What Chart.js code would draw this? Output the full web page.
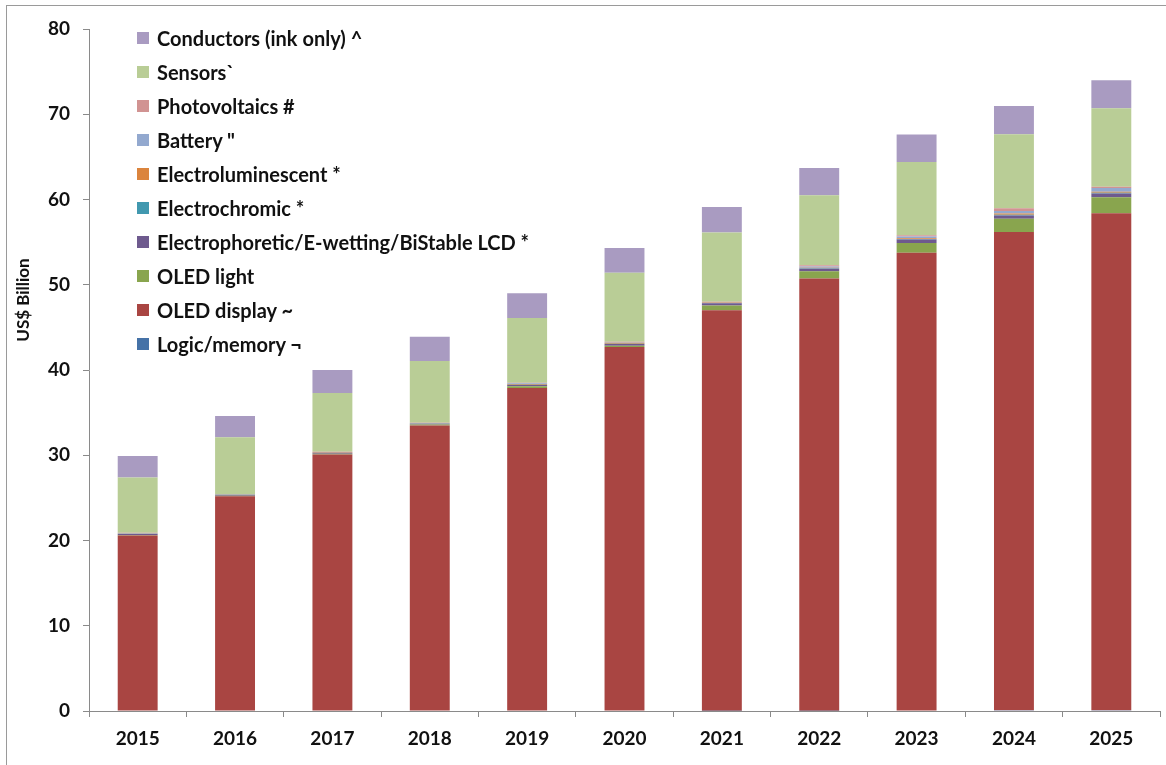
<!DOCTYPE html>
<html>
<head>
<meta charset="utf-8">
<script src="https://cdn.jsdelivr.net/npm/chart.js@4/dist/chart.umd.min.js"></script>
<style>
  html, body { margin: 0; padding: 0; background: #fff; }
  #wrap { position: relative; width: 1166px; height: 765px; overflow: hidden; }
  #c { position: absolute; left: 0; top: 0; }
  #frame { position: absolute; left: 6px; top: 5px; width: 1200px; height: 800px; border-top: 1px solid #9a9a9a; border-left: 1px solid #9a9a9a; }
  #legend { position: absolute; left: 137px; top: 0; font-family: Lato, "Open Sans", sans-serif; font-weight: bold; font-size: 20px; color: #111; }
  .row { position: absolute; left: 0; white-space: nowrap; height: 24px; line-height: 24px; }
  .sw { position: absolute; left: 0; top: 6px; width: 12px; height: 12px; }
  .tx { position: absolute; left: 20px; top: 0; }
  #ytitle { position: absolute; left: 22px; top: 300px; transform: translate(-50%, -50%) rotate(-90deg); font-family: Lato, "Open Sans", sans-serif; font-weight: bold; font-size: 17px; color: #111; white-space: nowrap; }
</style>
</head>
<body>
<div id="wrap">
  <canvas id="c" width="1166" height="765"></canvas>
  <div id="frame"></div>
  <div id="legend"></div>
  <div id="ytitle">US$ Billion</div>
</div>
<script>
const years = ["2015","2016","2017","2018","2019","2020","2021","2022","2023","2024","2025"];
const yTicks = [0,10,20,30,40,50,60,70,80];

const logicMemory       = [0, 0, 0, 0, 0, 0, 0.02, 0.03, 0.05, 0.08, 0.1];
const oledDisplay       = [20.6, 25.2, 30.1, 33.5, 37.9, 42.7, 47.0, 50.7, 53.7, 56.1, 58.3];
const oledLight         = [0.05, 0.05, 0.08, 0.1, 0.2, 0.15, 0.55, 0.85, 1.15, 1.55, 1.85];
const electrophoretic   = [0.12, 0.1, 0.1, 0.1, 0.15, 0.2, 0.25, 0.3, 0.4, 0.4, 0.45];
const electrochromic    = [0.01, 0.01, 0.01, 0.01, 0.02, 0.03, 0.04, 0.05, 0.06, 0.08, 0.1];
const electroluminescent= [0.05, 0.05, 0.05, 0.05, 0.1, 0.12, 0.06, 0.07, 0.1, 0.15, 0.1];
const battery           = [0.02, 0.02, 0.03, 0.02, 0.08, 0.05, 0.05, 0.15, 0.2, 0.3, 0.45];
const photovoltaics     = [0.05, 0.02, 0.03, 0.02, 0.05, 0.05, 0.05, 0.15, 0.15, 0.3, 0.15];
const sensors           = [6.5, 6.65, 6.9, 7.25, 7.6, 8.1, 8.1, 8.2, 8.6, 8.7, 9.2];
const conductors        = [2.5, 2.5, 2.7, 2.85, 2.9, 2.9, 3.0, 3.2, 3.2, 3.3, 3.3];

const seriesNames = [
  "Logic/memory ¬", "OLED display ~", "OLED light",
  "Electrophoretic/E-wetting/BiStable LCD *", "Electrochromic *",
  "Electroluminescent *", "Battery \"", "Photovoltaics #", "Sensors`", "Conductors (ink only) ^"
];
const seriesData = [logicMemory, oledDisplay, oledLight, electrophoretic, electrochromic,
  electroluminescent, battery, photovoltaics, sensors, conductors];
const seriesColors = ["#4572A7", "#A94542", "#89A54E", "#6E5A8E", "#4198AF",
  "#DB843D", "#93A9CF", "#D19392", "#B9CD96", "#A99BC1"];

const datasets = seriesNames.map((n, i) => ({
  label: n,
  data: seriesData[i],
  backgroundColor: seriesColors[i],
  borderWidth: 0,
  categoryPercentage: 1.0,
  barPercentage: 0.41
}));

// HTML legend (reverse order, top = last stacked)
const legendEl = document.getElementById('legend');
for (let k = 0; k < seriesNames.length; k++) {
  const i = seriesNames.length - 1 - k;
  const row = document.createElement('div');
  row.className = 'row';
  row.style.top = (38 + 34 * k - 12) + 'px';
  const sw = document.createElement('div');
  sw.className = 'sw';
  sw.style.background = seriesColors[i];
  const tx = document.createElement('div');
  tx.className = 'tx';
  tx.textContent = seriesNames[i];
  row.appendChild(sw); row.appendChild(tx);
  legendEl.appendChild(row);
}

const tickFont = { family: "Lato, 'Open Sans', sans-serif", weight: "bold", size: 19 };

new Chart(document.getElementById('c'), {
  type: 'bar',
  data: { labels: years, datasets },
  options: {
    responsive: false,
    animation: false,
    layout: { padding: { top: 29, right: 6, left: 0, bottom: 0 } },
    plugins: { legend: { display: false }, tooltip: { enabled: false }, title: { display: false } },
    scales: {
      x: {
        stacked: true,
        offset: true,
        grid: { offset: true, drawOnChartArea: false, drawTicks: true, tickLength: 6, color: '#8a8a8a', lineWidth: 1 },
        border: { display: true, color: '#8a8a8a', width: 1 },
        ticks: { font: tickFont, color: '#111', padding: 10, maxRotation: 0 },
        afterFit: s => { s.height = 54; }
      },
      y: {
        stacked: true,
        min: 0, max: 80,
        afterBuildTicks: s => { s.ticks = yTicks.map(v => ({ value: v })); },
        grid: { drawOnChartArea: false, drawTicks: true, tickLength: 6, color: '#8a8a8a', lineWidth: 1 },
        border: { display: true, color: '#8a8a8a', width: 1 },
        ticks: { font: tickFont, color: '#111', padding: 13 },
        afterFit: s => { s.width = 89; }
      }
    }
  }
});
</script>
</body>
</html>
